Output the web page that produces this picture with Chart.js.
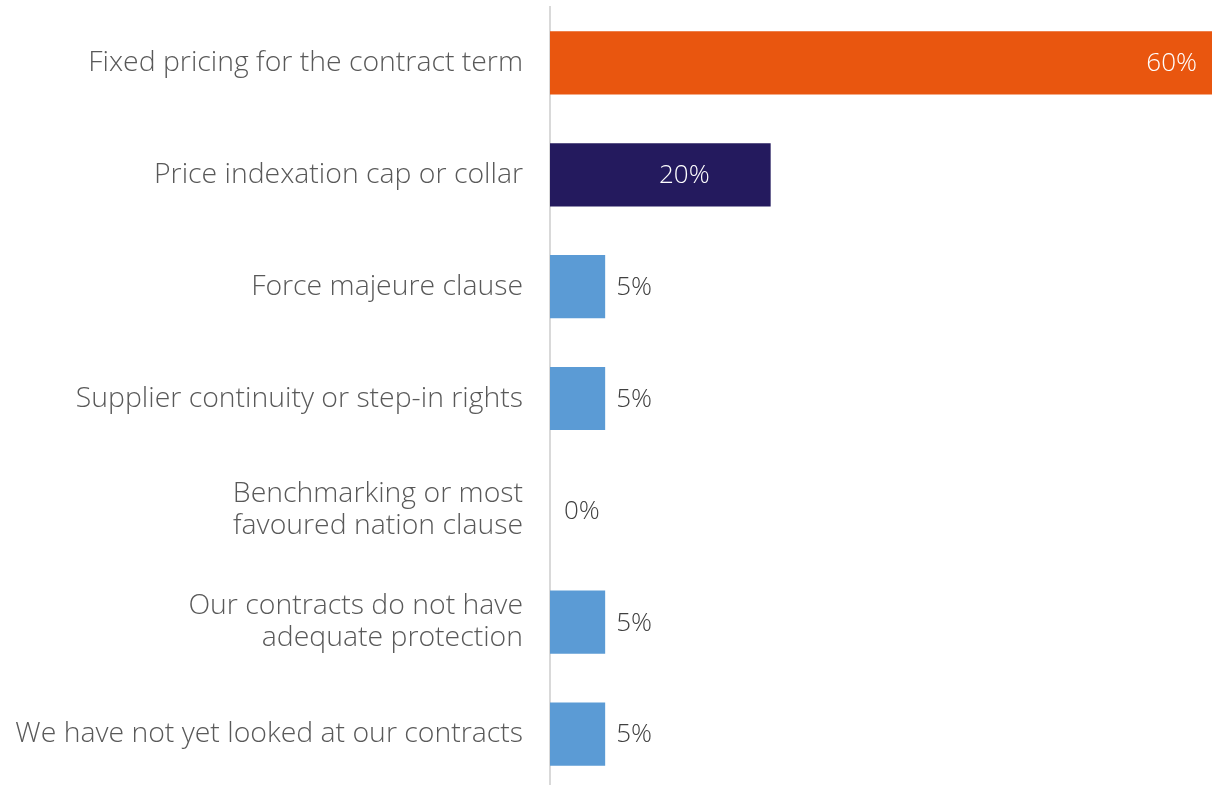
<!DOCTYPE html>
<html>
<head>
<meta charset="utf-8">
<script src="https://cdn.jsdelivr.net/npm/chart.js@4"></script>
<style>
  html, body { margin: 0; padding: 0; background: #fff; overflow: hidden; }
  #wrap { width: 1222px; height: 790px; position: relative; }
</style>
</head>
<body>
<div id="wrap"><canvas id="myChart"></canvas></div>
<script>
const categories = [
  "Fixed pricing for the contract term",
  "Price indexation cap or collar",
  "Force majeure clause",
  "Supplier continuity or step-in rights",
  ["Benchmarking or most", "favoured nation clause"],
  ["Our contracts do not have", "adequate protection"],
  "We have not yet looked at our contracts",
];
const shares = [60, 20, 5, 5, 0, 5, 5];
const barColors = ["#E9560F", "#241A5E", "#5B9BD5", "#5B9BD5", "#5B9BD5", "#5B9BD5", "#5B9BD5"];

const FONT = "'Open Sans', Lato, sans-serif";

// value labels: big bars get white text inside, small ones grey text past the end
const valueLabels = {
  id: "valueLabels",
  afterDatasetsDraw(chart) {
    const ctx = chart.ctx;
    const meta = chart.getDatasetMeta(0);
    ctx.save();
    ctx.font = "300 26px " + FONT;
    ctx.textBaseline = "middle";
    meta.data.forEach((bar, i) => {
      const v = shares[i];
      const txt = v + "%";
      if (v >= 50) {
        ctx.fillStyle = "#ffffff";
        ctx.textAlign = "right";
        ctx.fillText(txt, bar.x - 15, bar.y + 1);
      } else if (v >= 15) {
        ctx.fillStyle = "#ffffff";
        ctx.textAlign = "center";
        ctx.fillText(txt, (bar.base + bar.x) / 2 + 24, bar.y + 1);
      } else {
        ctx.fillStyle = "#404040";
        ctx.textAlign = "left";
        ctx.fillText(txt, bar.x + (v > 0 ? 11 : 14), bar.y + 1);
      }
    });
    ctx.restore();
  },
};

new Chart(document.querySelector("#myChart"), {
  type: "bar",
  data: {
    labels: categories,
    datasets: [
      {
        data: shares,
        backgroundColor: barColors,
        borderWidth: 0,
        barPercentage: 0.565,
        categoryPercentage: 1,
      },
    ],
  },
  options: {
    indexAxis: "y",
    responsive: true,
    maintainAspectRatio: false,
    animation: false,
    layout: { padding: { top: 7, right: 10, left: 0, bottom: 0 } },
    plugins: {
      legend: { display: false },
      tooltip: { enabled: false },
    },
    scales: {
      x: {
        display: false,
        min: 0,
        max: 60,
      },
      y: {
        afterFit(scale) {
          scale.width = 550;
          scale.paddingTop = 0;
          scale.paddingBottom = 0;
        },
        grid: { display: false, drawTicks: false },
        border: { display: true, color: "#d9d9d9", width: 2 },
        ticks: {
          padding: 27,
          color: "#595959",
          font: { family: FONT, size: 28.4, weight: "300", lineHeight: 1.13 },
        },
      },
    },
  },
  plugins: [valueLabels],
});
</script>
</body>
</html>
